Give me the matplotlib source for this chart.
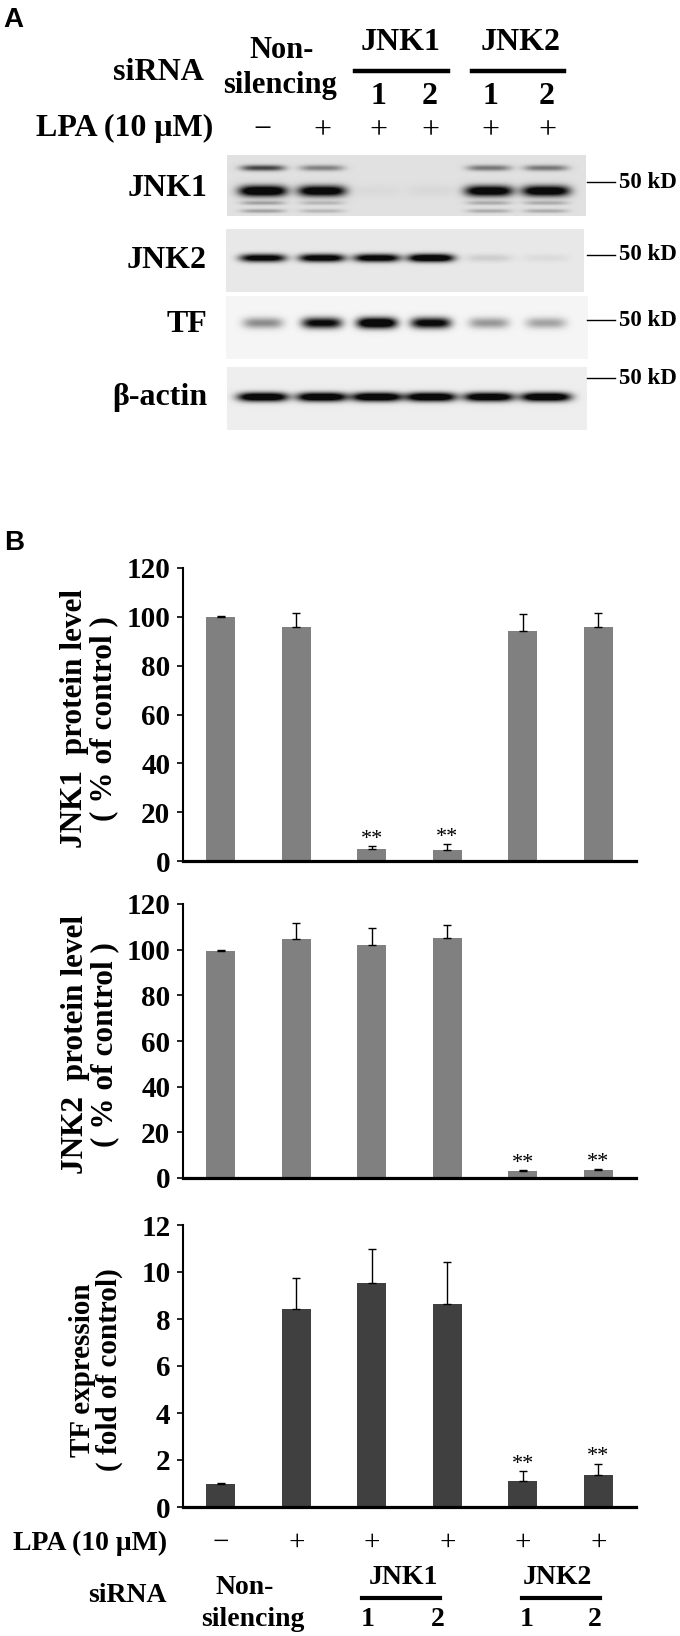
import numpy as np
import matplotlib
matplotlib.use("Agg")
import matplotlib.pyplot as plt
from matplotlib.lines import Line2D
from matplotlib import transforms

plt.rcParams['font.family'] = ['Liberation Serif', 'DejaVu Serif']
plt.rcParams['font.weight'] = 'bold'

# ==========================
# DATA
# ==========================
conditions = ["Non-silencing", "Non-silencing", "JNK1 #1", "JNK1 #2", "JNK2 #1", "JNK2 #2"]
lpa_signs = ["\u2212", "+", "+", "+", "+", "+"]

jnk1_mean = [100.0, 96.0, 5.0, 4.4, 94.1, 96.0]
jnk1_err = [0.3, 5.6, 1.0, 2.4, 7.0, 5.6]
jnk1_sig = [False, False, True, True, False, False]

jnk2_mean = [99.5, 104.7, 102.2, 105.3, 2.9, 3.5]
jnk2_err = [0.4, 6.8, 7.2, 5.5, 0.5, 0.5]
jnk2_sig = [False, False, False, False, True, True]

tf_mean = [1.0, 8.44, 9.53, 8.62, 1.09, 1.36]
tf_err = [0.03, 1.32, 1.43, 1.79, 0.44, 0.49]
tf_sig = [False, False, False, False, True, True]

# western blot band darkness per lane (0 = none, >1 saturated)
blot_jnk1_main = [1.4, 1.3, 0.03, 0.04, 1.3, 1.3]
blot_jnk1_upper = [0.75, 0.45, 0.0, 0.0, 0.5, 0.5]
blot_jnk1_lower = [0.3, 0.2, 0.0, 0.0, 0.25, 0.25]
blot_jnk2 = [1.2, 1.25, 1.25, 1.4, 0.12, 0.06]
blot_tf = [0.45, 1.1, 1.4, 1.15, 0.4, 0.35]
blot_actin = [1.4, 1.4, 1.4, 1.4, 1.35, 1.4]

W, H = 680, 1636
fig = plt.figure(figsize=(6.8, 16.36), dpi=100)


def fx(px):
    return px / W


def fy(py):
    return 1 - py / H


# ==========================
# PANEL A - HEADER
# ==========================
fig.text(fx(3), fy(7), "A", family="Liberation Sans", weight="bold", size=20, va="top")
fig.text(fx(204), fy(72), "siRNA", ha="right", va="center", size=23)
fig.text(fx(282), fy(50), "Non-", ha="center", va="center", size=22)
fig.text(fx(280), fy(85), "silencing", ha="center", va="center", size=22)
fig.text(fx(400), fy(43), "JNK1", ha="center", va="center", size=23)
fig.text(fx(521), fy(43), "JNK2", ha="center", va="center", size=23)
fig.add_artist(Line2D([fx(355), fx(448)], [fy(71), fy(71)], lw=3.2, color="black"))
fig.add_artist(Line2D([fx(472), fx(564)], [fy(71), fy(71)], lw=3.2, color="black"))
for xp, t in zip([378, 430, 490, 547], ["1", "2", "1", "2"]):
    fig.text(fx(xp), fy(97), t, ha="center", va="center", size=23)

lanes_a = [262, 322, 378, 430, 490, 547]
fig.text(fx(213), fy(128), "LPA (10 \u03bcM)", ha="right", va="center", size=23)
for xp, s in zip(lanes_a, lpa_signs):
    fig.text(fx(xp), fy(131), s, ha="center", va="center", size=23, weight="normal")

# ==========================
# PANEL A - BLOTS
# ==========================
band_lanes = [263, 322, 377, 431, 489, 546]


def draw_blot(x0, x1, y0, y1, bg, bands):
    ax = fig.add_axes([fx(x0), fy(y1), (x1 - x0) / W, (y1 - y0) / H])
    xs = np.arange(x0, x1) + 0.5
    ys = np.arange(y0, y1) + 0.5
    X, Y = np.meshgrid(xs, ys)
    dark = np.zeros_like(X)
    for yc, sy, hw, vals in bands:
        for xc, v in zip(band_lanes, vals):
            dark += v * np.exp(-np.abs((X - xc) / hw) ** 4) * np.exp(-((Y - yc) / sy) ** 2)
    dark = np.clip(dark, 0, 1)
    img = bg - dark * (bg - 0.04)
    ax.imshow(img, cmap="gray", vmin=0, vmax=1, extent=(x0, x1, y1, y0),
              aspect="auto", interpolation="bilinear")
    ax.axis("off")
    return ax


draw_blot(227, 586, 155, 216, 0.88,
          [(191, 5.5, 24, blot_jnk1_main), (168, 3.0, 22, blot_jnk1_upper),
           (203, 2.0, 22, blot_jnk1_lower), (211, 2.0, 22, blot_jnk1_lower)])
draw_blot(226, 584, 229, 292, 0.91, [(258, 4.0, 23, blot_jnk2)])
draw_blot(226, 588, 296, 359, 0.96, [(323, 5.5, 20, blot_tf)])
draw_blot(227, 587, 367, 430, 0.93, [(397, 4.5, 25, blot_actin)])

row_labels = ["JNK1", "JNK2", "TF", "\u03b2-actin"]
row_y = [188, 260, 325, 397]
for lab, yp in zip(row_labels, row_y):
    fig.text(fx(207), fy(yp), lab, ha="right", va="center", size=23)

for yp in [182, 255, 320, 378]:
    fig.add_artist(Line2D([fx(587), fx(615)], [fy(yp), fy(yp)], lw=1.0, color="black"))
    fig.text(fx(619), fy(yp), "50 kD", ha="left", va="center", size=16.5)

# ==========================
# PANEL B - BAR CHARTS
# ==========================
fig.text(fx(4), fy(530), "B", family="Liberation Sans", weight="bold", size=20, va="top")

x = np.arange(len(conditions))


def bar_panel(top, bottom, mean, err, sig, color, ymax, step, ylabel, lab_x, lab_size):
    ax = fig.add_axes([fx(183), fy(bottom), (636 - 183) / W, (bottom - top) / H])
    ax.bar(x, mean, width=0.39, color=color, zorder=2)
    ax.errorbar(x, mean, yerr=[np.zeros(len(err)), err], fmt="none", ecolor="black",
                elinewidth=1.0, capsize=3, capthick=1.0, zorder=3)
    for i in range(len(x)):
        if sig[i]:
            ax.annotate("**", (x[i], mean[i] + err[i]), xytext=(0, -2),
                        textcoords="offset points", ha="center", va="bottom",
                        fontsize=16, fontweight="normal")
    ax.set_xlim(-0.5, 5.5)
    ax.set_ylim(0, ymax)
    ax.set_yticks(np.arange(0, ymax + step / 2, step))
    ax.set_xticks([])
    ax.spines["top"].set_visible(False)
    ax.spines["right"].set_visible(False)
    ax.spines["left"].set_linewidth(1.5)
    ax.spines["bottom"].set_linewidth(2.3)
    ax.tick_params(axis="y", direction="out", length=4, width=1.2, labelsize=21, pad=5)
    for t in ax.get_yticklabels():
        t.set_fontweight("bold")
    fig.text(fx(lab_x), fy((top + bottom) / 2 + 4), ylabel, rotation=90, ha="center",
             va="center", size=lab_size, multialignment="center", linespacing=1.0)
    return ax


ax1 = bar_panel(568, 861, jnk1_mean, jnk1_err, jnk1_sig, "#808080", 120, 20,
                "JNK1  protein level\n( % of control )", 89, 22.5)
ax2 = bar_panel(904, 1178, jnk2_mean, jnk2_err, jnk2_sig, "#808080", 120, 20,
                "JNK2  protein level\n( % of control )", 90, 22.5)
ax3 = bar_panel(1225, 1507, tf_mean, tf_err, tf_sig, "#404040", 12, 2,
                "TF expression\n( fold of control)", 96, 21)

# ==========================
# PANEL B - LANE LABELS
# ==========================
trans = transforms.blended_transform_factory(ax3.transData, fig.transFigure)
fig.text(fx(167), fy(1543), "LPA (10 \u03bcM)", ha="right", va="center", size=20)
for i, s in enumerate(lpa_signs):
    fig.text(x[i], fy(1543), s, transform=trans, ha="center", va="center",
             size=21, weight="normal")
fig.text(fx(167), fy(1595), "siRNA", ha="right", va="center", size=20)
fig.text(fx(245), fy(1587), "Non-", ha="center", va="center", size=20)
fig.text(fx(253), fy(1620), "silencing", ha="center", va="center", size=20)
fig.text(fx(403), fy(1578), "JNK1", ha="center", va="center", size=20)
fig.text(fx(557), fy(1578), "JNK2", ha="center", va="center", size=20)
fig.add_artist(Line2D([fx(362), fx(440)], [fy(1598), fy(1598)], lw=3.0, color="black"))
fig.add_artist(Line2D([fx(522), fx(600)], [fy(1598), fy(1598)], lw=3.0, color="black"))
for xp, t in zip([368, 438, 527, 595], ["1", "2", "1", "2"]):
    fig.text(fx(xp), fy(1620), t, ha="center", va="center", size=20)

fig.savefig("out.png", dpi=100)
